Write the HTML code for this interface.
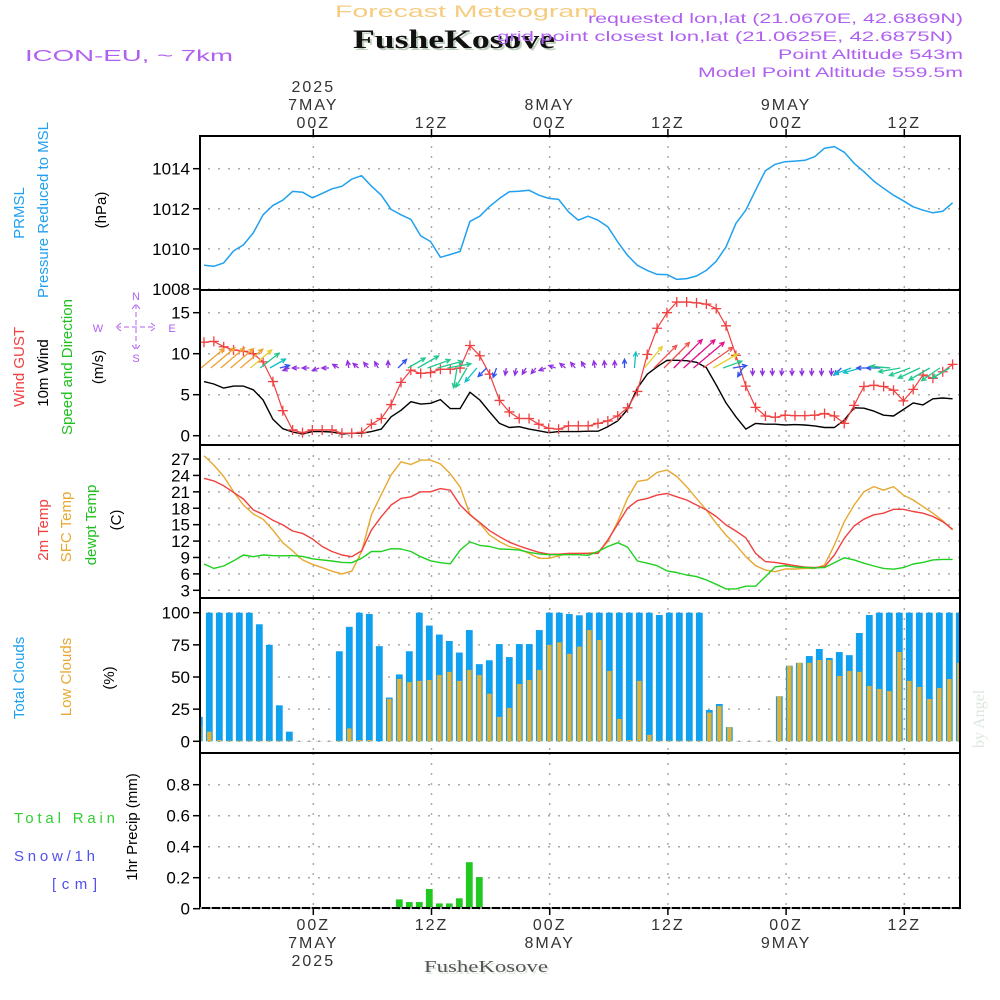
<!DOCTYPE html>
<html><head><meta charset="utf-8"><title>Forecast Meteogram FusheKosove</title>
<style>
html,body{margin:0;padding:0;background:#fff;}
svg{display:block;}
</style></head>
<body>
<svg id="chart" width="1000" height="1000" viewBox="0 0 1000 1000" xmlns="http://www.w3.org/2000/svg" font-family="Liberation Sans, sans-serif">
<rect x="0" y="0" width="1000" height="1000" fill="#fff"/>
<!-- header -->
<text x="335" y="17" font-size="17" fill="#f5cc80" textLength="263" lengthAdjust="spacingAndGlyphs">Forecast Meteogram</text>
<text x="355" y="50" font-size="26" font-weight="bold" fill="#c0d0c0" font-family="Liberation Serif, serif" textLength="202" lengthAdjust="spacingAndGlyphs">FusheKosove</text>
<text x="353" y="48" font-size="26" font-weight="bold" fill="#111" font-family="Liberation Serif, serif" textLength="202" lengthAdjust="spacingAndGlyphs">FusheKosove</text>
<text x="25" y="61" font-size="16" fill="#b060f0" textLength="208" lengthAdjust="spacingAndGlyphs">ICON-EU, ~ 7km</text>
<text x="588" y="23" font-size="14" fill="#b060f0" textLength="375" lengthAdjust="spacingAndGlyphs">requested lon,lat (21.0670E, 42.6869N)</text>
<text x="497" y="41" font-size="14" fill="#b060f0" textLength="456" lengthAdjust="spacingAndGlyphs">grid point closest lon,lat (21.0625E, 42.6875N)</text>
<text x="778" y="59" font-size="14" fill="#b060f0" textLength="185" lengthAdjust="spacingAndGlyphs">Point Altitude 543m</text>
<text x="698" y="77" font-size="14" fill="#b060f0" textLength="265" lengthAdjust="spacingAndGlyphs">Model Point Altitude 559.5m</text>

<!-- left labels -->
<g font-size="15">
<text transform="translate(24,213) rotate(-90)" text-anchor="middle" fill="#20a0f0">PRMSL</text>
<text transform="translate(48,210) rotate(-90)" text-anchor="middle" fill="#20a0f0">Pressure Reduced to MSL</text>
<text transform="translate(106,210) rotate(-90)" text-anchor="middle" fill="#000">(hPa)</text>
<text transform="translate(24,367) rotate(-90)" text-anchor="middle" fill="#f04040">Wind GUST</text>
<text transform="translate(48,373) rotate(-90)" text-anchor="middle" fill="#000">10m Wind</text>
<text transform="translate(72,367) rotate(-90)" text-anchor="middle" fill="#20c020">Speed and Direction</text>
<text transform="translate(103,367) rotate(-90)" text-anchor="middle" fill="#000">(m/s)</text>
<text transform="translate(48,530) rotate(-90)" text-anchor="middle" fill="#f04040">2m Temp</text>
<text transform="translate(71,527) rotate(-90)" text-anchor="middle" fill="#e8a830">SFC Temp</text>
<text transform="translate(96,525) rotate(-90)" text-anchor="middle" fill="#20c020">dewpt Temp</text>
<text transform="translate(121,520) rotate(-90)" text-anchor="middle" fill="#000">(C)</text>
<text transform="translate(24,678) rotate(-90)" text-anchor="middle" fill="#20a0f0">Total Clouds</text>
<text transform="translate(71,677) rotate(-90)" text-anchor="middle" fill="#e8a830">Low Clouds</text>
<text transform="translate(114,678) rotate(-90)" text-anchor="middle" fill="#000">(%)</text>
<text transform="translate(137,827) rotate(-90)" text-anchor="middle" fill="#000">1hr Precip (mm)</text>
<text x="14" y="823" fill="#30d030" textLength="101" lengthAdjust="spacing">Total  Rain</text>
<text x="14" y="861" fill="#5050f0" textLength="81" lengthAdjust="spacing">Snow/1h</text>
<text x="52" y="889" fill="#5050f0" textLength="45" lengthAdjust="spacing">[cm]</text>
</g>
<!-- compass -->
<g fill="#b060f0" font-size="11" text-anchor="middle">
<text x="136" y="300">N</text><text x="98" y="332">W</text><text x="172" y="332">E</text><text x="136" y="362">S</text>
<path d="M116,327H156 M136,304V350 M121,323L116,327L121,331 M151,323L156,327L151,331 M132,309L136,304L140,309 M132,345L136,350L140,345" stroke="#b060f0" stroke-width="1" fill="none" stroke-dasharray="5,3"/>
</g>
<text transform="translate(984,748) rotate(-90)" font-size="16" fill="#dde6dd" font-family="Liberation Serif, serif">by Angel</text>
<g id="plot"></g>
</svg>
<script>
// ---- data (hourly, index k) ----
const pressure=[1009.18,1009.13,1009.3,1009.9,1010.2,1010.8,1011.7,1012.17,1012.43,1012.87,1012.83,1012.55,1012.77,1013.0,1013.12,1013.48,1013.65,1013.13,1012.68,1011.97,1011.7,1011.47,1010.65,1010.37,1009.58,1009.72,1009.87,1011.37,1011.63,1012.12,1012.52,1012.85,1012.88,1012.93,1012.68,1012.52,1012.47,1011.85,1011.43,1011.63,1011.43,1011.1,1010.35,1009.68,1009.18,1008.93,1008.73,1008.72,1008.48,1008.52,1008.65,1008.93,1009.38,1010.1,1011.27,1011.93,1012.93,1013.9,1014.22,1014.35,1014.38,1014.42,1014.6,1015.02,1015.1,1014.82,1014.27,1013.85,1013.38,1013.02,1012.68,1012.4,1012.1,1011.93,1011.8,1011.88,1012.3];
const windGust=[11.4,11.5,10.85,10.45,10.3,10.0,9.0,6.6,3.05,0.7,0.37,0.7,0.7,0.7,0.3,0.3,0.4,1.4,2.1,3.8,6.5,8.0,7.6,7.7,8.1,8.1,8.25,11.0,9.75,7.5,4.3,2.9,2.1,2.1,1.4,0.9,0.8,1.2,1.2,1.2,1.5,1.8,2.4,3.4,5.4,9.9,13.1,15.0,16.3,16.3,16.2,16.05,15.5,13.4,9.8,6.05,3.45,2.4,2.25,2.5,2.45,2.45,2.5,2.7,2.4,1.5,3.7,6.0,6.15,6.0,5.55,4.25,5.65,7.4,7.0,7.8,8.7];
const wind10m=[6.6,6.3,5.8,6.05,6.05,5.6,4.35,2.0,0.85,0.45,0.2,0.5,0.5,0.45,0.2,0.3,0.3,0.5,0.8,2.3,3.1,4.15,3.85,3.95,4.4,3.3,3.3,5.3,4.35,2.9,1.5,1.0,1.1,0.8,0.6,0.37,0.5,0.5,0.5,0.55,0.55,1.1,1.8,3.2,5.8,7.5,8.4,9.2,9.2,9.15,8.95,8.3,6.2,4.0,2.3,0.8,1.5,1.4,1.4,1.3,1.35,1.3,1.2,1.0,1.0,1.9,3.4,3.35,3.0,2.5,2.4,3.2,4.0,3.75,4.5,4.6,4.5];
const arrowDir=[40,40,40,40,40,40,38,30,15,200,180,180,200,180,150,100,140,130,120,90,45,30,30,20,15,10,260,240,230,225,250,260,260,240,230,200,160,140,130,120,100,95,90,90,85,50,45,45,45,42,40,35,30,20,10,240,270,270,270,265,270,270,270,270,270,225,200,195,180,180,175,190,200,205,210,215,210];
const arrowSpd=[6.5,6.8,6.8,6.5,6.3,6.0,5.0,3.5,1.5,0.8,0.8,0.8,0.8,0.8,0.8,0.8,0.8,0.8,0.8,0.8,2,4,5,5,5.5,5,4,4.5,3.5,2,1.5,0.8,0.8,0.8,0.8,0.8,0.8,0.8,0.8,0.8,0.8,0.8,0.8,1.2,3,6,7,8,9,9.5,9,8,6,4,2.5,1.5,0.8,0.8,0.8,0.8,0.8,0.8,0.8,0.8,0.8,1.5,3.5,3.5,2.5,2.5,4,4.5,4.5,5,5,4.5,4];
const temp2m=[23.47,23.0,22.1,20.9,19.7,17.7,16.9,15.8,14.95,13.85,13.4,12.4,11.0,10.1,9.45,9.15,10.2,14.0,16.45,18.6,19.8,20.1,21.0,21.0,21.6,21.3,18.6,16.8,15.4,13.9,12.8,11.8,11.1,10.5,9.95,9.6,9.6,9.75,9.75,9.75,9.75,12.2,15.1,18.0,19.4,19.8,20.4,20.7,20.1,19.5,18.6,17.7,16.5,14.95,13.85,12.6,9.75,8.25,8.1,7.8,7.5,7.25,7.15,7.3,9.45,12.5,14.75,16.0,16.8,17.1,17.8,17.8,17.4,17.1,16.5,15.55,14.15];
const tempSfc=[27.6,25.9,23.8,21.0,18.6,16.95,16.0,14.0,11.7,10.2,8.55,7.75,7.15,6.5,6.0,6.5,10.1,16.8,20.5,24.1,26.5,26.0,26.8,26.8,26.1,24.3,21.9,16.9,15.25,13.1,11.9,11.0,10.55,9.75,8.85,8.85,9.3,9.75,9.75,9.8,9.95,11.9,15.55,19.8,22.9,23.2,24.55,25.0,23.8,21.95,19.8,17.7,15.25,13.1,11.3,9.15,7.5,6.7,6.4,6.9,6.9,7.0,7.0,7.6,11.3,15.55,18.6,21.0,21.95,21.3,21.95,20.4,19.5,18.3,17.1,15.7,14.0];
const tempDew=[7.8,7.0,7.45,8.4,9.45,9.15,9.45,9.35,9.3,9.35,9.2,8.75,8.55,8.35,8.1,8.05,8.85,10.1,10.1,10.6,10.55,10.1,9.15,8.4,8.05,7.85,10.35,11.85,11.2,11.0,10.55,10.5,10.35,9.95,9.65,9.5,9.5,9.5,9.5,9.4,10.1,11.0,11.7,10.9,8.35,7.95,7.5,6.55,6.25,5.8,5.5,4.9,4.1,3.25,3.25,3.75,3.75,5.5,7.3,7.5,7.25,7.15,7.1,7.15,8.05,8.95,8.55,7.95,7.45,7.0,6.85,7.15,7.8,8.1,8.55,8.65,8.65];
const totalClouds=[19,100,100,100,100,100,91,75,28,7.5,0.3,0.3,0.3,0.3,70,89,100,99,74,34,52,70,100,90,83,78,69,86.5,60,63,75.6,65.5,75.6,75.6,86.5,100,100,99,98,100,100,100,100,100,100,100,98.2,100,100,100,100,24.4,29,11,0.3,0.3,0.3,0.3,35,58.8,61,66.3,71.8,64.8,69.4,67,84.2,98.2,100,100,100,100,100,100,100,100,100];
const lowClouds=[12,7.5,1,0.5,0.5,0.5,0.5,0.5,0.5,0.5,0.3,0.3,0.3,0.3,0.5,10,1,1,0.3,33,48.5,46,47,47.7,51.5,54,47,55.5,51.5,37,19,26,44.5,47.7,55.5,75,77,68,73.6,86.5,78.8,54.7,17.4,1,47,5,0.5,0.5,0.5,0.5,0.5,22.3,27.5,11,0.3,0.3,0.3,0.3,35,58.8,61,61,63.2,63.2,50.8,54.7,54,43,40.7,39,69.4,47,42.2,32.9,41.5,48.4,61];
const precip=[0,0,0,0,0,0,0,0,0,0,0,0,0,0,0,0,0,0,0,0,0.06,0.043,0.043,0.127,0.034,0.034,0.067,0.30,0.204,0,0,0,0,0,0,0,0,0,0,0,0,0,0,0,0,0,0,0,0,0,0,0,0,0,0,0,0,0,0,0,0,0,0,0,0,0,0,0,0,0,0,0,0,0,0,0,0];
const pressTicks=[1008,1010,1012,1014];
const windTicks=[0,5,10,15];
const tempTicks=[3,6,9,12,15,18,21,24,27];
const cloudTicks=[0,25,50,75,100];
const precipTicks=[0,0.2,0.4,0.6,0.8];
const precipTickLabels=["0","0.2","0.4","0.6","0.8"];
const timeTopTicks=["00Z","12Z","00Z","12Z","00Z","12Z"];
const timeTopDays=["7MAY","","8MAY","","9MAY",""];
const timeBottomDays=["7MAY","","8MAY","","9MAY",""];

// ---- axes ----
const X0=200,X1=960;
const xLine=k=>204+9.85*k;
const xBar=k=>199.3+10*k;
const xGrid=i=>313.3+118.2*i;
const yP=v=>289-(v-1008)*20.05;
const yW=v=>435.7-v*8.2;
const yT=v=>590.3-(v-3)*5.47;
const yC=v=>741.3-v*1.286;
const yR=v=>908.7-v*155;
const panels=[[136,290],[290,445],[445,598],[598,753],[753,908]];

const NS="http://www.w3.org/2000/svg";
const plot=document.getElementById('plot');
function mk(tag,attrs,parent){const e=document.createElementNS(NS,tag);for(const a in attrs)e.setAttribute(a,attrs[a]);(parent||plot).appendChild(e);return e;}

const defs=mk('defs',{});
const cp=mk('clipPath',{id:'pc'},defs);
mk('rect',{x:X0,y:136,width:X1-X0,height:772},cp);

const grid=mk('g',{stroke:'#aaa','stroke-width':1.5,'stroke-dasharray':'2,8',fill:'none'});


for(let i=0;i<6;i++){const x=xGrid(i);panels.forEach(p=>mk('line',{x1:x,x2:x,y1:p[0],y2:p[1]},grid));}
function hgrid(ticks,yf){ticks.forEach(t=>mk('line',{x1:X0+8,x2:X1,y1:yf(t),y2:yf(t)},grid));}
hgrid(pressTicks,yP);hgrid(windTicks,yW);hgrid(tempTicks,yT);hgrid(cloudTicks,yC);hgrid(precipTicks,yR);

function yTicks(ticks,labels,yf,name){
  const g=mk('g',{'font-size':17,fill:'#000','text-anchor':'end'});
  
  
  ticks.forEach((t,i)=>{const y=yf(t);
    mk('line',{x1:193,x2:X0,y1:y,y2:y,stroke:'#000','stroke-width':1.5},g);
    const tx=mk('text',{x:190,y:y+6},g);tx.textContent=labels?labels[i]:String(t);});
}
yTicks(pressTicks,null,yP,'pressure-y-axis');
yTicks(windTicks,null,yW,'wind-y-axis');
yTicks(tempTicks,null,yT,'temp-y-axis');
yTicks(cloudTicks,null,yC,'clouds-y-axis');
yTicks(precipTicks,precipTickLabels,yR,'precip-y-axis');

const clipG=mk('g',{'clip-path':'url(#pc)'});
function line(arr,yf,color,name,w){
  const d=arr.map((v,k)=>(k?'L':'M')+xLine(k).toFixed(1)+','+yf(v).toFixed(1)).join('');
  const p=mk('path',{d:d,stroke:color,'stroke-width':w||1.4,fill:'none','stroke-linejoin':'round'},clipG);
  
  
}
line(pressure,yP,'#20a0f0','pressure-line',1.5);
line(wind10m,yW,'#000','wind-10m-line',1.4);
line(windGust,yW,'#f04040','wind-gust-line',1.2);
const gm=mk('g',{stroke:'#f04040','stroke-width':1.3},clipG);


windGust.forEach((v,k)=>{const x=xLine(k),y=yW(v);
  const m=mk('path',{d:`M${x-5},${y}H${x+5}M${x},${y-5}V${y+5}`},gm);
  
  });
function arrowColor(s){if(s<1.2)return'#9030e0';if(s<2.6)return'#3050f0';if(s<3.6)return'#10c0c8';if(s<5.6)return'#20c890';if(s<6.3)return'#e8d030';if(s<7.0)return'#f0a030';if(s<8.5)return'#f05050';return'#e0108c';}
const ag=mk('g',{fill:'none','stroke-width':1.3},clipG);


arrowDir.forEach((dir,k)=>{
  const s=arrowSpd[k],L=4*s+4,a=dir*Math.PI/180;
  const x0=xLine(k)-3,y0=368,x1=x0+L*Math.cos(a),y1=y0-L*Math.sin(a);
  const h=5,b1=a+Math.PI-0.45,b2=a+Math.PI+0.45;
  const d=`M${x0.toFixed(1)},${y0}L${x1.toFixed(1)},${y1.toFixed(1)}M${(x1+h*Math.cos(b1)).toFixed(1)},${(y1-h*Math.sin(b1)).toFixed(1)}L${x1.toFixed(1)},${y1.toFixed(1)}L${(x1+h*Math.cos(b2)).toFixed(1)},${(y1-h*Math.sin(b2)).toFixed(1)}`;
  const p=mk('path',{d:d,stroke:arrowColor(s)},ag);
  
  
});
line(tempSfc,yT,'#e8a830','sfc-temp-line',1.4);
line(temp2m,yT,'#f04040','temp-2m-line',1.4);
line(tempDew,yT,'#20d020','dewpt-temp-line',1.4);
const cg=mk('g',{},clipG);


totalClouds.forEach((v,k)=>{const x=xBar(k);
  const b=mk('rect',{x:x-3.4,y:yC(v),width:6.8,height:yC(0)-yC(v),fill:v<1?'#999':'#10a0f0'},cg);
  
  });
lowClouds.forEach((v,k)=>{const x=xBar(k);if(v<0.4)return;
  const b=mk('rect',{x:x-2.2,y:yC(v),width:4.4,height:yC(0)-yC(v),fill:'#e8b030'},cg);
  
  });
const pg=mk('g',{},clipG);


precip.forEach((v,k)=>{if(v<=0)return;const x=xBar(k);
  const b=mk('rect',{x:x-3.4,y:yR(v),width:6.8,height:yR(0)-yR(v),fill:'#20c820'},pg);
  
  });

const bg=mk('g',{stroke:'#000','stroke-width':2,fill:'none'});


panels.forEach(p=>mk('rect',{x:X0,y:p[0],width:X1-X0,height:p[1]-p[0]},bg));
mk('line',{x1:X0,x2:X1,y1:908,y2:908,stroke:'#999','stroke-width':2,'stroke-dasharray':'2,8'},bg);

const tg=mk('g',{'font-size':16,fill:'#333','text-anchor':'middle','letter-spacing':'2'});


for(let i=0;i<6;i++){const x=xGrid(i);
  mk('line',{x1:x,x2:x,y1:129,y2:136,stroke:'#000','stroke-width':1.5},tg);
  mk('line',{x1:x,x2:x,y1:908,y2:915,stroke:'#000','stroke-width':1.5},tg);
  let t=mk('text',{x:x,y:128},tg);t.textContent=timeTopTicks[i];
  if(timeTopDays[i]){t=mk('text',{x:x,y:110},tg);t.textContent=timeTopDays[i];}
  t=mk('text',{x:x,y:930},tg);t.textContent=timeTopTicks[i];
  if(timeBottomDays[i]){t=mk('text',{x:x,y:948},tg);t.textContent=timeBottomDays[i];}
}
let t=mk('text',{x:xGrid(0),y:92},tg);t.textContent='2025';
t=mk('text',{x:xGrid(0),y:966},tg);t.textContent='2025';
t=mk('text',{x:426,y:974,'font-size':17,fill:'#dde8dd','font-family':'Liberation Serif, serif','text-anchor':'start','letter-spacing':'0',textLength:124,lengthAdjust:'spacingAndGlyphs'});t.textContent='FusheKosove';


t=mk('text',{x:424,y:972,'font-size':17,fill:'#555','font-family':'Liberation Serif, serif','text-anchor':'start','letter-spacing':'0',textLength:124,lengthAdjust:'spacingAndGlyphs'});t.textContent='FusheKosove';


</script>
</body></html>
